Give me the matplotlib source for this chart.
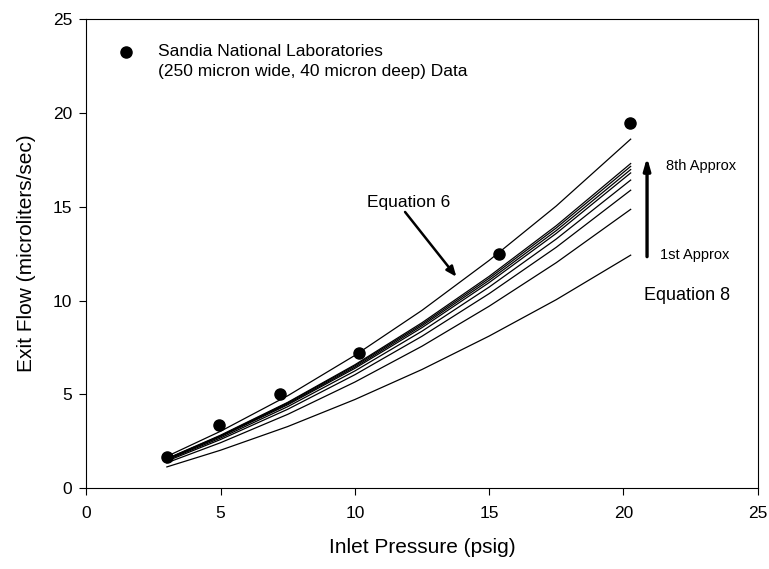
import matplotlib
matplotlib.use("Agg")
import matplotlib.pyplot as plt

plt.rcParams["font.family"] = ["Liberation Sans", "DejaVu Sans"]

# Sandia measured data
data_pressure = [2.99, 4.95, 7.23, 10.14, 15.36, 20.26]
data_flow = [1.68, 3.37, 5.02, 7.22, 12.47, 19.48]

# model curves, read at these inlet pressures
curve_pressure = [3.0, 5.0, 7.5, 10.0, 12.5, 15.0, 17.5, 20.27]
eq6_flow = [1.70, 3.04, 4.93, 7.08, 9.48, 12.14, 15.04, 18.60]
eq8_flows = [
    [1.14, 2.03, 3.29, 4.73, 6.33, 8.11, 10.05, 12.42],   # 1st approx
    [1.36, 2.43, 3.94, 5.66, 7.57, 9.70, 12.02, 14.86],
    [1.45, 2.60, 4.21, 6.05, 8.10, 10.37, 12.84, 15.88],
    [1.50, 2.68, 4.35, 6.25, 8.37, 10.72, 13.28, 16.42],
    [1.54, 2.75, 4.45, 6.39, 8.56, 10.96, 13.58, 16.80],
    [1.55, 2.78, 4.50, 6.46, 8.66, 11.08, 13.73, 16.98],
    [1.57, 2.80, 4.55, 6.53, 8.74, 11.19, 13.87, 17.15],
    [1.58, 2.83, 4.58, 6.58, 8.82, 11.29, 13.99, 17.30],  # 8th approx
]

x_ticks = [0, 5, 10, 15, 20, 25]
y_ticks = [0, 5, 10, 15, 20, 25]


fig = plt.figure(figsize=(7.69, 5.69), dpi=100)
ax = fig.add_axes([0.1122, 0.1418, 0.8731, 0.8248])

for flow in eq8_flows:
    ax.plot(curve_pressure, flow, color="black", linewidth=0.9)
ax.plot(curve_pressure, eq6_flow, color="black", linewidth=0.9)

ax.plot(data_pressure, data_flow, "o", color="black", markersize=8, linestyle="none")

# legend drawn by hand like the original
ax.plot([1.48], [23.26], "o", color="black", markersize=8)
ax.text(2.66, 23.02, "Sandia National Laboratories", fontsize=12.5, va="baseline")
ax.text(2.66, 21.95, "(250 micron wide, 40 micron deep) Data", fontsize=12.5, va="baseline")

ax.text(10.44, 15.2, "Equation 6", fontsize=12.5, va="center")
ax.annotate("", xy=(13.78, 11.27), xytext=(11.87, 14.72),
            arrowprops=dict(arrowstyle="-|>,head_length=0.6,head_width=0.25",
                            color="black", lw=1.8, shrinkA=0, shrinkB=0))

ax.annotate("", xy=(20.88, 17.63), xytext=(20.88, 12.34),
            arrowprops=dict(arrowstyle="-|>,head_length=0.7,head_width=0.2",
                            color="black", lw=2.4, shrinkA=0, shrinkB=0))
ax.text(21.57, 17.17, "8th Approx", fontsize=10.5, va="center")
ax.text(21.35, 12.43, "1st Approx", fontsize=10.5, va="center")
ax.text(20.76, 10.25, "Equation 8", fontsize=13, va="center")

ax.set_xlim(0, 25)
ax.set_ylim(0, 25)
ax.set_xticks(x_ticks)
ax.set_yticks(y_ticks)
ax.tick_params(axis="both", direction="out", length=5, width=0.8, labelsize=12.5)
ax.tick_params(axis="x", pad=8)
ax.tick_params(axis="y", pad=5)
for spine in ax.spines.values():
    spine.set_linewidth(0.8)

ax.set_xlabel("Inlet Pressure (psig)", fontsize=15, labelpad=12)
ax.set_ylabel("Exit Flow (microliters/sec)", fontsize=15, labelpad=12)

fig.savefig("out.png", dpi=100)
